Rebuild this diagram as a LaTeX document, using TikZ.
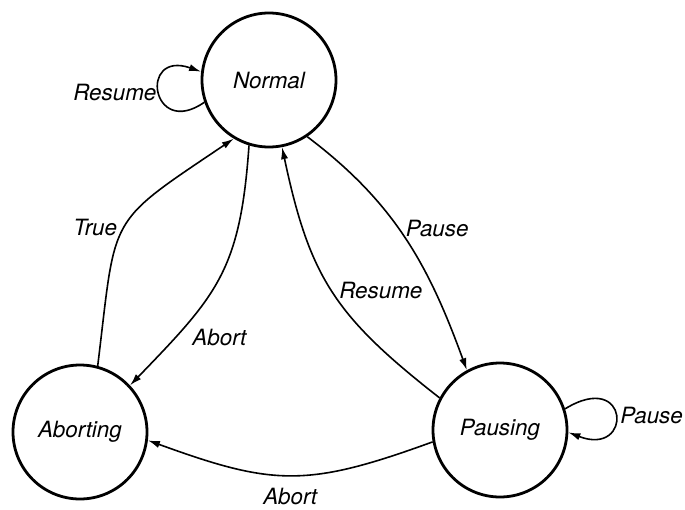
\documentclass[tikz,border=0pt]{standalone}
\usepackage{fontspec}
\setmainfont{TeX Gyre Heros}
\usetikzlibrary{arrows.meta}

\begin{document}
\begin{tikzpicture}[x=0.5pt, y=0.5pt, >={Latex[length=6pt,width=3.6pt]},
    every node/.style={font=\fontsize{11.2}{13}\selectfont\itshape},
    state/.style={draw, circle, line width=1.4pt, minimum size=67pt, inner sep=0pt},
    trans/.style={->, line width=0.8pt}]
    \useasboundingbox (0,0) rectangle (685,-509);

    % states
    \node[state] (N) at (269,-80) {Normal};
    \node[state] (A) at (80,-432) {Aborting};
    \node[state] (P) at (500,-430) {Pausing};

    % self loops
    \draw[trans] (N.199) .. controls +(-53,-37) and +(-63,22) .. (N.173)
        node[pos=0.5, left, inner sep=1pt] {Resume};
    \draw[trans] (P.18) .. controls +(65,40) and +(65,-25) .. (P.-2)
        node[pos=0.5, right, inner sep=2pt] {Pause};

    % transitions between states
    \draw[trans] (N.-56) to[out=-37, in=110] node[pos=0.45, right] {Pause} (P.119);
    \draw[trans] (P.152) to[out=142, in=-78, looseness=1.15] node[pos=0.5, right] {Resume} (N.-79);
    \draw[trans] (N.-107) to[out=-94, in=46, looseness=1.2] node[pos=0.8, right=5pt] {Abort} (A.43);
    \draw[trans] (A.75) to[out=83, in=214, looseness=1.5] node[pos=0.5, left] {True} (N.-121);
    \draw[trans] (P.190) to[out=200, in=-20, looseness=1.2]
        node[pos=0.5, below=5pt, inner sep=1pt] {Abort} (A.-7);
\end{tikzpicture}
\end{document}
